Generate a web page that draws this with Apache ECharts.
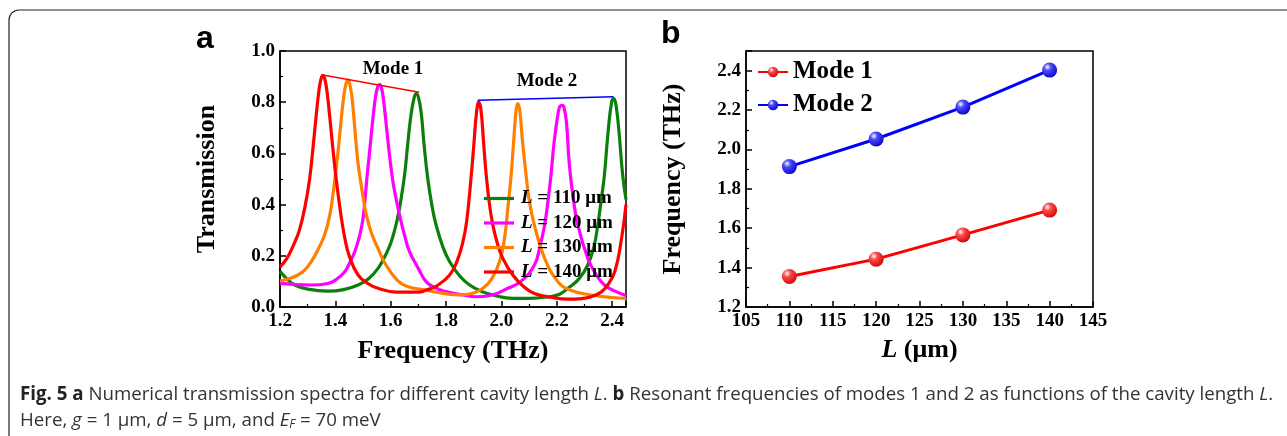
<!DOCTYPE html>
<html>
<head>
<meta charset="utf-8">
<script src="https://cdn.jsdelivr.net/npm/echarts@6/dist/echarts.min.js"></script>
<style>
  html, body { margin: 0; background: #fff; }
  #chart { width: 1287px; height: 436px; }
</style>
</head>
<body>
<div id="chart"></div>
<script>
// (a) transmission spectra, [frequency (THz), transmission]
const spec110 = [
  [1.20, 0.14], [1.225, 0.11], [1.253, 0.086], [1.30, 0.07], [1.373, 0.062], [1.43, 0.068],
  [1.482, 0.086], [1.52, 0.11], [1.554, 0.151], [1.58, 0.20], [1.602, 0.255], [1.623, 0.339],
  [1.637, 0.42], [1.65, 0.515], [1.66, 0.62], [1.672, 0.74], [1.683, 0.81], [1.692, 0.834],
  [1.70, 0.82], [1.71, 0.76], [1.72, 0.64], [1.734, 0.50], [1.75, 0.39], [1.764, 0.32],
  [1.79, 0.23], [1.813, 0.177], [1.85, 0.12], [1.885, 0.086], [1.93, 0.06], [1.969, 0.047],
  [2.041, 0.034], [2.10, 0.034], [2.17, 0.04], [2.21, 0.05], [2.24, 0.073], [2.28, 0.11],
  [2.312, 0.164], [2.335, 0.24], [2.348, 0.32], [2.362, 0.43], [2.372, 0.515], [2.385, 0.68],
  [2.398, 0.80], [2.406, 0.814], [2.415, 0.78], [2.425, 0.68], [2.438, 0.515], [2.45, 0.42]
];
const spec120 = [
  [1.20, 0.092], [1.25, 0.088], [1.313, 0.086], [1.373, 0.092], [1.40, 0.105], [1.434, 0.138],
  [1.455, 0.18], [1.47, 0.216], [1.488, 0.28], [1.50, 0.346], [1.508, 0.43], [1.515, 0.515],
  [1.525, 0.62], [1.535, 0.73], [1.545, 0.82], [1.553, 0.86], [1.56, 0.869], [1.567, 0.855],
  [1.575, 0.80], [1.585, 0.70], [1.597, 0.58], [1.608, 0.489], [1.62, 0.42], [1.632, 0.359],
  [1.65, 0.28], [1.668, 0.216], [1.70, 0.15], [1.728, 0.099], [1.76, 0.075], [1.80, 0.06],
  [1.86, 0.047], [1.909, 0.04], [1.96, 0.045], [2.023, 0.073], [2.07, 0.10], [2.119, 0.164],
  [2.14, 0.24], [2.156, 0.32], [2.17, 0.43], [2.179, 0.515], [2.19, 0.64], [2.205, 0.76],
  [2.212, 0.785], [2.219, 0.788], [2.226, 0.78], [2.235, 0.72], [2.245, 0.56], [2.26, 0.42],
  [2.276, 0.32], [2.312, 0.19], [2.34, 0.13], [2.372, 0.086], [2.41, 0.062], [2.45, 0.045]
];
const spec130 = [
  [1.20, 0.101], [1.23, 0.11], [1.265, 0.125], [1.29, 0.145], [1.313, 0.177], [1.34, 0.23],
  [1.361, 0.281], [1.38, 0.36], [1.391, 0.437], [1.40, 0.515], [1.41, 0.61], [1.42, 0.72],
  [1.43, 0.82], [1.438, 0.87], [1.445, 0.886], [1.452, 0.87], [1.46, 0.82], [1.47, 0.70],
  [1.48, 0.58], [1.49, 0.50], [1.50, 0.43], [1.512, 0.359], [1.53, 0.29], [1.554, 0.229],
  [1.58, 0.17], [1.623, 0.105], [1.66, 0.08], [1.728, 0.066], [1.79, 0.053], [1.848, 0.047],
  [1.90, 0.055], [1.933, 0.073], [1.965, 0.11], [1.993, 0.177], [2.01, 0.26], [2.023, 0.385],
  [2.035, 0.515], [2.045, 0.66], [2.053, 0.77], [2.059, 0.795], [2.066, 0.77], [2.075, 0.66],
  [2.089, 0.515], [2.10, 0.42], [2.119, 0.32], [2.156, 0.19], [2.204, 0.099], [2.25, 0.065],
  [2.324, 0.047], [2.40, 0.037], [2.45, 0.034]
];
const spec140 = [
  [1.20, 0.157], [1.225, 0.19], [1.25, 0.245], [1.27, 0.30], [1.29, 0.39], [1.307, 0.50],
  [1.32, 0.63], [1.33, 0.74], [1.34, 0.84], [1.348, 0.89], [1.355, 0.905], [1.362, 0.89],
  [1.37, 0.84], [1.38, 0.74], [1.39, 0.63], [1.403, 0.50], [1.42, 0.36], [1.434, 0.27],
  [1.45, 0.20], [1.482, 0.125], [1.52, 0.09], [1.554, 0.073], [1.62, 0.058], [1.70, 0.058],
  [1.728, 0.066], [1.77, 0.085], [1.813, 0.125], [1.84, 0.18], [1.861, 0.255], [1.875, 0.34],
  [1.891, 0.515], [1.90, 0.63], [1.91, 0.76], [1.918, 0.80], [1.926, 0.77], [1.935, 0.65],
  [1.945, 0.515], [1.957, 0.40], [1.969, 0.32], [1.985, 0.25], [2.005, 0.19], [2.041, 0.125],
  [2.08, 0.08], [2.119, 0.053], [2.18, 0.038], [2.24, 0.031], [2.29, 0.033], [2.324, 0.04],
  [2.36, 0.058], [2.384, 0.086], [2.41, 0.14], [2.432, 0.255], [2.45, 0.40]
];
// guide lines joining the resonance peaks
const mode1Line = [[1.354, 0.906], [1.703, 0.839]];
const mode2Line = [[1.914, 0.808], [2.405, 0.821]];

// (b) resonant frequency vs cavity length
const cavityL = [110, 120, 130, 140];
const mode1Freq = [1.355, 1.443, 1.566, 1.692];
const mode2Freq = [1.913, 2.053, 2.215, 2.403];

const serif = '"Liberation Serif", "Times New Roman", serif';
const sans = '"Liberation Sans", Arial, sans-serif';
const black = '#000';

const chart = echarts.init(document.getElementById('chart'));

const tickFont = { margin: 5, fontFamily: serif, fontWeight: 'bold', fontSize: 19, color: black };

function axis(opt) {
  return Object.assign({
    type: 'value',
    nameLocation: 'middle',
    nameTextStyle: { fontFamily: serif, fontWeight: 'bold', fontSize: 26, color: black },
    axisLine: { onZero: false, lineStyle: { color: black, width: 1.5 } },
    axisTick: { inside: true, length: 6, lineStyle: { color: black, width: 1.5 } },
    minorTick: { show: true, splitNumber: 2, length: 3, lineStyle: { color: black, width: 1.2 } },
    splitLine: { show: false },
    axisLabel: tickFont
  }, opt);
}

const oneDec = v => v.toFixed(1);

function ball(light, dark) {
  return new echarts.graphic.RadialGradient(0.35, 0.3, 0.8, [
    { offset: 0, color: '#ffffff' },
    { offset: 0.3, color: light },
    { offset: 1, color: dark }
  ]);
}

function spectrum(name, data, color) {
  return {
    name: name, type: 'line', xAxisIndex: 0, yAxisIndex: 0,
    data: data, symbol: 'none', smooth: 0.45,
    lineStyle: { width: 3.2, color: color }, itemStyle: { color: color }
  };
}

// caption
const capSize = 18.7;
const capFont = '"Open Sans", "Noto Sans", sans-serif';
const capRich = {
  b: { fontFamily: capFont, fontSize: capSize, fontWeight: 'bold', fill: '#222' },
  i: { fontFamily: capFont, fontSize: capSize, fontStyle: 'italic', fill: '#333' },
  s: { fontFamily: capFont, fontSize: capSize * 0.65, fontStyle: 'italic', fill: '#333', padding: [8, 0, 0, 0] }
};

const option = {
  animation: false,
  backgroundColor: '#fff',
  grid: [
    { left: 280, top: 51, width: 346, height: 256, show: true, borderColor: black, borderWidth: 1.5 },
    { left: 746, top: 51, width: 347, height: 256, show: true, borderColor: black, borderWidth: 1.5 }
  ],
  xAxis: [
    axis({ gridIndex: 0, min: 1.2, max: 2.45, interval: 0.2, name: 'Frequency (THz)', nameGap: 31,
      axisLabel: Object.assign({ showMaxLabel: false, formatter: oneDec }, tickFont) }),
    axis({ gridIndex: 1, min: 105, max: 145, interval: 5, name: '{i|L} (μm)', nameGap: 30,
      nameTextStyle: { fontFamily: serif, fontWeight: 'bold', fontSize: 26, color: black,
        rich: { i: { fontFamily: serif, fontWeight: 'bold', fontStyle: 'italic', fontSize: 26, color: black } } } })
  ],
  yAxis: [
    axis({ gridIndex: 0, min: 0, max: 1, interval: 0.2, name: 'Transmission', nameGap: 60,
      axisLabel: Object.assign({ formatter: oneDec }, tickFont) }),
    axis({ gridIndex: 1, min: 1.2, max: 2.5, interval: 0.2, name: 'Frequency (THz)', nameGap: 60,
      axisLabel: Object.assign({ showMaxLabel: false, formatter: oneDec }, tickFont) })
  ],
  legend: [
    {
      left: 484, top: 189, padding: 0, orient: 'vertical', icon: 'rect',
      itemWidth: 30, itemHeight: 3.2, itemGap: 5.5,
      data: ['L = 110 μm', 'L = 120 μm', 'L = 130 μm', 'L = 140 μm'],
      formatter: n => '{i|L}' + n.slice(1),
      textStyle: { fontFamily: serif, fontWeight: 'bold', fontSize: 19, color: black, lineHeight: 19,
        padding: [0, 0, 0, 2],
        rich: { i: { fontFamily: serif, fontWeight: 'bold', fontStyle: 'italic', fontSize: 19, color: black } } }
    },
    {
      left: 757, top: 59, padding: 0, orient: 'vertical', itemWidth: 30, itemHeight: 13, itemGap: 7,
      data: ['Mode 1', 'Mode 2'],
      textStyle: { fontFamily: serif, fontWeight: 'bold', fontSize: 25, color: black, lineHeight: 26 }
    }
  ],
  series: [
    spectrum('L = 110 μm', spec110, '#0a800a'),
    spectrum('L = 120 μm', spec120, '#ff00ff'),
    spectrum('L = 130 μm', spec130, '#ff8000'),
    spectrum('L = 140 μm', spec140, '#ff0000'),
    { name: 'guide1', type: 'line', xAxisIndex: 0, yAxisIndex: 0, data: mode1Line, symbol: 'none',
      lineStyle: { width: 1.5, color: '#ff0000' } },
    { name: 'guide2', type: 'line', xAxisIndex: 0, yAxisIndex: 0, data: mode2Line, symbol: 'none',
      lineStyle: { width: 1.5, color: '#0000ff' } },
    { name: 'Mode 1', type: 'line', xAxisIndex: 1, yAxisIndex: 1,
      data: cavityL.map((l, i) => [l, mode1Freq[i]]),
      symbol: 'circle', symbolSize: 15,
      lineStyle: { width: 3, color: '#ff0000' }, itemStyle: { color: ball('#ff4a4a', '#c80000') } },
    { name: 'Mode 2', type: 'line', xAxisIndex: 1, yAxisIndex: 1,
      data: cavityL.map((l, i) => [l, mode2Freq[i]]),
      symbol: 'circle', symbolSize: 15,
      lineStyle: { width: 3, color: '#0000ff' }, itemStyle: { color: ball('#4a4aff', '#0000b8') } }
  ],
  graphic: [
    { type: 'rect', shape: { x: 9, y: 10, width: 1300, height: 440, r: 10 }, silent: true,
      style: { fill: null, stroke: '#222', lineWidth: 1.2 } },
    { type: 'text', left: 196, top: 23, style: { text: 'a', font: 'bold 32px ' + sans, fill: black } },
    { type: 'text', left: 661, top: 18, style: { text: 'b', font: 'bold 32px ' + sans, fill: black } },
    { type: 'text', x: 393, y: 69, style: { text: 'Mode 1', font: 'bold 19px ' + serif, fill: black,
      align: 'center', verticalAlign: 'middle' } },
    { type: 'text', x: 547, y: 81, style: { text: 'Mode 2', font: 'bold 19px ' + serif, fill: black,
      align: 'center', verticalAlign: 'middle' } },
    { type: 'text', x: 20, y: 395, style: {
      text: '{b|Fig. 5 a} Numerical transmission spectra for different cavity length {i|L}. {b|b} Resonant frequencies of modes 1 and 2 as functions of the cavity length {i|L}.',
      font: capSize + 'px ' + capFont, fill: '#333', verticalAlign: 'middle', rich: capRich } },
    { type: 'text', x: 20, y: 421, style: {
      text: 'Here, {i|g} = 1 μm, {i|d} = 5 μm, and {i|E}{s|F} = 70 meV',
      font: capSize + 'px ' + capFont, fill: '#333', verticalAlign: 'middle', rich: capRich } }
  ]
};

chart.setOption(option);
</script>
</body>
</html>
